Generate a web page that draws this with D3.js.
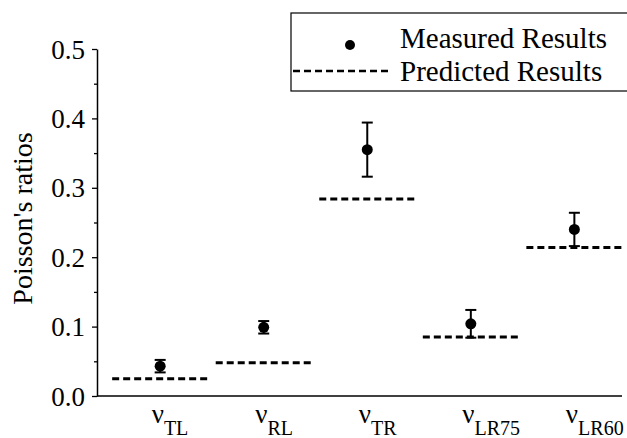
<!DOCTYPE html>
<html>
<head>
<meta charset="utf-8">
<script src="https://cdn.jsdelivr.net/npm/d3@7"></script>
<style>
  body { margin: 0; background: #fff; }
</style>
</head>
<body>
<svg id="chart" width="627" height="438"></svg>
<script>
// data
const CATEGORIES = ['TL', 'RL', 'TR', 'LR75', 'LR60'];
const MEASURED = [0.043, 0.099, 0.355, 0.104, 0.240];
const MEASURED_ERR = [0.009, 0.009, 0.039, 0.020, 0.024];
const PREDICTED = [0.025, 0.048, 0.284, 0.085, 0.214];
const Y_TICKS = [0.0, 0.1, 0.2, 0.3, 0.4, 0.5];
const Y_MINOR = [0.05, 0.15, 0.25, 0.35, 0.45];

const FONT = "'Liberation Serif', 'Times New Roman', Times, serif";
const margin = {top: 49, right: 5, bottom: 42, left: 97};
const width = 627, height = 438;
const svg = d3.select('#chart');

const y = d3.scaleLinear([0, 0.5], [height - margin.bottom, margin.top]);
const x = d3.scaleLinear([-0.61, 4.46], [margin.left, width - margin.right]);

// left axis
svg.append('g')
  .attr('transform', `translate(${margin.left},0)`)
  .call(d3.axisLeft(y).tickValues(Y_MINOR).tickSize(3).tickFormat(''))
  .call(g => g.select('.domain').remove())
  .call(g => g.selectAll('line').attr('stroke-width', 1.3));

svg.append('g')
  .attr('transform', `translate(${margin.left},0)`)
  .call(d3.axisLeft(y).tickValues(Y_TICKS).tickSize(5).tickSizeOuter(0).tickPadding(7).tickFormat(d3.format('.1f')))
  .call(g => g.select('.domain').attr('stroke-width', 1.5))
  .call(g => g.selectAll('line').attr('stroke-width', 1.3))
  .call(g => g.selectAll('text').style('font-family', FONT).style('font-size', '27px').attr('dy', '0.34em'));

// bottom axis line
svg.append('line')
  .attr('x1', margin.left).attr('x2', width - margin.right)
  .attr('y1', y(0)).attr('y2', y(0))
  .attr('stroke', '#000').attr('stroke-width', 1.5);

// y label
svg.append('text')
  .attr('transform', `translate(32, ${(y(0) + y(0.5)) / 2 - 4}) rotate(-90)`)
  .attr('text-anchor', 'middle')
  .style('font-family', FONT)
  .style('font-size', '28px')
  .text("Poisson's ratios");

// x labels
const xl = svg.selectAll('.xlab')
  .data(CATEGORIES).enter()
  .append('text')
  .attr('class', 'xlab')
  .attr('x', (d, i) => x(i) - 8.5)
  .attr('y', 423)
  .style('font-family', FONT)
  .attr('text-anchor', 'start');
xl.append('tspan').style('font-size', '27px').text('ν');
xl.append('tspan').style('font-size', '20px').attr('dy', 12).text(d => d);

// predicted dashes
const half = 48;
svg.selectAll('.pred')
  .data(PREDICTED).enter()
  .append('line')
  .attr('x1', (d, i) => x(i) - half)
  .attr('x2', (d, i) => x(i) + half)
  .attr('y1', d => y(d)).attr('y2', d => y(d))
  .attr('stroke', '#000').attr('stroke-width', 3)
  .attr('stroke-dasharray', '7,4');

// error bars
const eb = svg.selectAll('.err')
  .data(MEASURED).enter()
  .append('g');
eb.append('line')
  .attr('x1', (d, i) => x(i)).attr('x2', (d, i) => x(i))
  .attr('y1', (d, i) => y(d - MEASURED_ERR[i]))
  .attr('y2', (d, i) => y(d + MEASURED_ERR[i]))
  .attr('stroke', '#000').attr('stroke-width', 2);
[-1, 1].forEach(s => {
  eb.append('line')
    .attr('x1', (d, i) => x(i) - 5.5).attr('x2', (d, i) => x(i) + 5.5)
    .attr('y1', (d, i) => y(d + s * MEASURED_ERR[i]))
    .attr('y2', (d, i) => y(d + s * MEASURED_ERR[i]))
    .attr('stroke', '#000').attr('stroke-width', 2);
});
eb.append('circle')
  .attr('cx', (d, i) => x(i))
  .attr('cy', d => y(d))
  .attr('r', 5.5)
  .attr('fill', '#000');

// legend
const lg = svg.append('g');
lg.append('rect')
  .attr('x', 291).attr('y', 13)
  .attr('width', 340).attr('height', 78)
  .attr('fill', '#fff').attr('stroke', '#000').attr('stroke-width', 1.2);
lg.append('circle').attr('cx', 350).attr('cy', 45).attr('r', 5).attr('fill', '#000');
lg.append('line')
  .attr('x1', 293).attr('x2', 389).attr('y1', 71).attr('y2', 71)
  .attr('stroke', '#000').attr('stroke-width', 2.5).attr('stroke-dasharray', '7,4');
lg.append('text').attr('x', 400).attr('y', 48).style('font-family', FONT).style('font-size', '29px').text('Measured Results');
lg.append('text').attr('x', 400).attr('y', 81).style('font-family', FONT).style('font-size', '29px').text('Predicted Results');
</script>
</body>
</html>
